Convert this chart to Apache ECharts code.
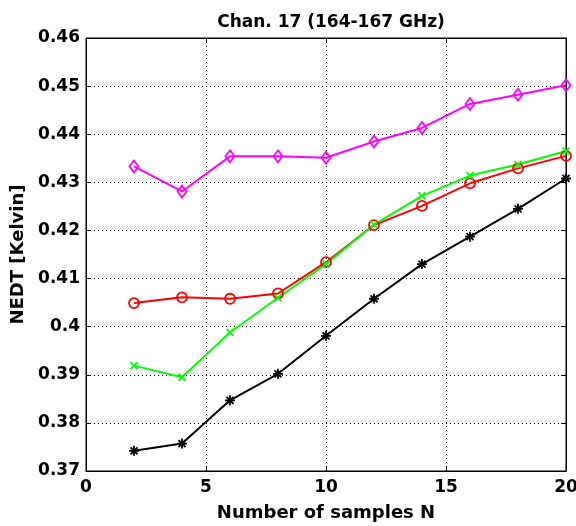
<!DOCTYPE html>
<html><head><meta charset="utf-8">
<script src="https://cdn.jsdelivr.net/npm/echarts@6/dist/echarts.min.js"></script>
<style>html,body{margin:0;padding:0;background:#fff}#c{width:576px;height:526px}</style>
</head><body><div id="c"></div>
<script>
const samplesN = [2, 4, 6, 8, 10, 12, 14, 16, 18, 20];
const magentaVals = [0.4333, 0.4281, 0.4354, 0.4354, 0.4351, 0.4385, 0.4413, 0.4463, 0.4482, 0.4502];
const redVals     = [0.4049, 0.4061, 0.4058, 0.4069, 0.4134, 0.4211, 0.4251, 0.4298, 0.4329, 0.4355];
const greenVals   = [0.3919, 0.3895, 0.3988, 0.4060, 0.4130, 0.4212, 0.4272, 0.4314, 0.4337, 0.4365];
const blackVals   = [0.3742, 0.3757, 0.3847, 0.3902, 0.3981, 0.4058, 0.4130, 0.4187, 0.4245, 0.4308];
const titleText = 'Chan. 17 (164-167 GHz)';
const xName = 'Number of samples N';
const yName = 'NEDT [Kelvin]';

const font = 'DejaVu Sans, sans-serif';
function pts(v){ return samplesN.map((x,i)=>[x,v[i]]); }
const xMark = 'path://M0 0L10 10M10 0L0 10';
const star = 'path://M5 0L5 10M0 5L10 5M1.5 1.5L8.5 8.5M8.5 1.5L1.5 8.5';
function ser(name, data, color, symbol, size){
  return {name, type:'line', data:pts(data), symbol, symbolSize:size, xAxisIndex:0, yAxisIndex:0,
    lineStyle:{color, width:2}, itemStyle:{color:'rgba(0,0,0,0)', borderColor:color, borderWidth:1.8},
    emphasis:{disabled:true}, animation:false, z:3};
}
const chart = echarts.init(document.getElementById('c'));
const axisCommon = {
  axisLine:{show:true, onZero:false, lineStyle:{color:'#000', width:1}},
  axisTick:{show:true, inside:true, length:5, lineStyle:{color:'#000'}},
};
chart.setOption({
  animation:false,
  title:{text:titleText, left:326, top:9, textAlign:'center',
    textStyle:{fontFamily:font, fontWeight:'bold', fontSize:17, color:'#000'}},
  grid:{left:86, right:10, top:38, bottom:55, show:true, borderColor:'#000', borderWidth:1,
    containLabel:false, outerBoundsMode:'none'},
  xAxis:[{type:'value', min:0, max:20, interval:5, ...axisCommon,
    name:xName, nameLocation:'middle', nameGap:33,
    nameTextStyle:{fontFamily:font, fontWeight:'bold', fontSize:18, color:'#000'},
    axisLabel:{fontFamily:font, fontWeight:'bold', fontSize:17, color:'#000', margin:8},
    splitLine:{show:true, lineStyle:{color:'#000', type:[1,3], width:1}}},
    {type:'value', min:0, max:20, interval:5, position:'top', ...axisCommon, axisLabel:{show:false}, splitLine:{show:false}}],
  yAxis:[{type:'value', min:0.37, max:0.46, interval:0.01, ...axisCommon,
    name:yName, nameLocation:'middle', nameGap:51,
    nameTextStyle:{fontFamily:font, fontWeight:'bold', fontSize:18, color:'#000'},
    axisLabel:{fontFamily:font, fontWeight:'bold', fontSize:17, color:'#000', margin:6,
      formatter:v=>String(+v.toFixed(2))},
    splitLine:{show:true, lineStyle:{color:'#000', type:[1,3], width:1}}},
    {type:'value', min:0.37, max:0.46, interval:0.01, position:'right', ...axisCommon, axisLabel:{show:false}, splitLine:{show:false}}],
  series:[
    ser('magenta', magentaVals, '#ff00ff', 'diamond', [9,12]),
    ser('red', redVals, '#ff0000', 'circle', 10),
    ser('green', greenVals, '#00ff00', xMark, 7),
    ser('black', blackVals, '#000000', star, 10)
  ]
});
</script></body></html>
